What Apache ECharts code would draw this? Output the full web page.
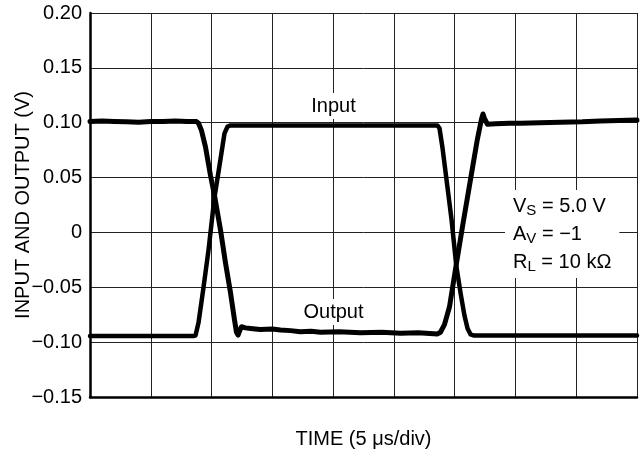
<!DOCTYPE html>
<html>
<head>
<meta charset="utf-8">
<script src="https://cdn.jsdelivr.net/npm/echarts@6/dist/echarts.min.js"></script>
<style>
html,body{margin:0;padding:0;background:#fff;}
#c{width:641px;height:453px;}
</style>
</head>
<body>
<div id="c"></div>
<script>
// Time in microseconds (5 us/div, 9 divisions), values in volts
var inputT = [0, 2, 4, 6, 8, 8.5, 8.68, 8.93, 9.34, 9.75, 10.24, 10.74, 11.06, 11.31, 11.56, 15, 20, 25, 28.4, 28.59, 28.75, 29.0, 29.41, 29.74, 30.13, 30.48, 30.81, 31.06, 31.31, 31.6, 35, 40, 45];
var inputV = [-0.0945, -0.0945, -0.0945, -0.0945, -0.0945, -0.0945, -0.094, -0.082, -0.050, -0.016, 0.032, 0.067, 0.090, 0.0965, 0.0975, 0.0975, 0.0975, 0.0975, 0.0975, 0.0975, 0.095, 0.077, 0.041, 0.012, -0.030, -0.055, -0.076, -0.0875, -0.093, -0.094, -0.094, -0.094, -0.094];

var outputT = [0, 1, 2, 3, 4, 5, 6, 7, 8, 8.76, 8.93, 9.17, 9.50, 9.91, 10.27, 10.74, 11.15, 11.56, 11.89, 12.05, 12.18, 12.30, 12.46, 12.79, 13.2, 14.0, 15.0, 15.67, 16.5, 17.3, 18.2, 18.96, 20.5, 22.25, 24.0, 25.54, 27.0, 28.59, 28.83, 29.16, 29.57, 30.12, 30.64, 31.30, 31.87, 32.20, 32.33, 32.45, 32.70, 33.36, 34.5, 35.42, 37.0, 38.7, 40.5, 42.0, 43.5, 45];
var outputV = [0.101, 0.1015, 0.1012, 0.1008, 0.1005, 0.1012, 0.101, 0.1015, 0.1012, 0.101, 0.0995, 0.093, 0.078, 0.052, 0.032, 0.002, -0.028, -0.055, -0.080, -0.091, -0.0935, -0.090, -0.086, -0.087, -0.0875, -0.0885, -0.088, -0.089, -0.0895, -0.0905, -0.090, -0.091, -0.0905, -0.0915, -0.091, -0.092, -0.0915, -0.0925, -0.091, -0.084, -0.068, -0.030, 0.005, 0.048, 0.085, 0.103, 0.108, 0.104, 0.0985, 0.099, 0.0995, 0.0995, 0.100, 0.1005, 0.1008, 0.1015, 0.102, 0.1025];

var yTickLabels = ['\u22120.15', '\u22120.10', '\u22120.05', '0', '0.05', '0.10', '0.15', '0.20'];
var yAxisTitle = 'INPUT AND OUTPUT (V)';
var xAxisTitle = 'TIME (5 \u03bcs/div)';
var inputLabel = 'Input';
var outputLabel = 'Output';

function zip(t, v) { return t.map(function (x, i) { return [x, v[i]]; }); }

var FONT = 'Liberation Sans, Arial, Helvetica, sans-serif';
var chart = echarts.init(document.getElementById('c'), null, { renderer: 'canvas' });

chart.setOption({
  animation: false,
  backgroundColor: '#fff',
  grid: { left: 90, right: 4, top: 13, bottom: 56, show: false, containLabel: false, outerBoundsMode: 'none' },
  xAxis: {
    type: 'value', min: 0, max: 45, interval: 5,
    name: xAxisTitle, nameLocation: 'middle', nameGap: 32, nameMoveOverlap: false,
    nameTextStyle: { fontFamily: FONT, fontSize: 20, color: '#000' },
    axisLine: { show: true, onZero: false, lineStyle: { color: '#000', width: 2.5 } },
    axisTick: { show: false },
    axisLabel: { show: false },
    splitLine: { show: true, lineStyle: { color: '#222', width: 1 } }
  },
  yAxis: {
    type: 'value', min: -0.15, max: 0.20, interval: 0.05,
    name: yAxisTitle, nameLocation: 'middle', nameGap: 57, nameRotate: 90, nameMoveOverlap: false,
    nameTextStyle: { fontFamily: FONT, fontSize: 20, color: '#000' },
    axisLine: { show: true, onZero: false, lineStyle: { color: '#000', width: 2.5 } },
    axisTick: { show: false },
    axisLabel: {
      margin: 8, fontFamily: FONT, fontSize: 20, color: '#000',
      formatter: function (v) { return yTickLabels[Math.round((v + 0.15) / 0.05)]; }
    },
    splitLine: { show: true, lineStyle: { color: '#222', width: 1 } }
  },
  series: [
    {
      name: 'Input', type: 'line', data: zip(inputT, inputV), symbol: 'none',
      lineStyle: { color: '#000', width: 4.5, cap: 'round', join: 'round' }, z: 3
    },
    {
      name: 'Output', type: 'line', data: zip(outputT, outputV), symbol: 'none',
      lineStyle: { color: '#000', width: 5, cap: 'round', join: 'round' }, z: 3
    }
  ],
  graphic: [
    {
      type: 'text', x: 333.5, y: 106, z: 10,
      style: {
        text: inputLabel, font: '20px ' + FONT, fill: '#000',
        align: 'center', verticalAlign: 'middle',
        backgroundColor: '#fff', padding: [3, 3, 3, 3]
      }
    },
    {
      type: 'text', x: 333.5, y: 312, z: 10,
      style: {
        text: outputLabel, font: '20px ' + FONT, fill: '#000',
        align: 'center', verticalAlign: 'middle',
        backgroundColor: '#fff', padding: [3, 3, 3, 3]
      }
    },
    {
      type: 'text', x: 505, y: 190, z: 10,
      style: {
        text: '{n|V}{s|S}{n| = 5.0 V}\n{n|A}{s|V}{n| = \u22121}\n{n|R}{s|L}{n| = 10 k\u03a9}',
        fill: '#000', backgroundColor: '#fff', padding: [2, 8, 2, 8],
        align: 'left', verticalAlign: 'top',
        rich: {
          n: { fontFamily: FONT, fontSize: 20, lineHeight: 28, fill: '#000' },
          s: { fontFamily: FONT, fontSize: 15, lineHeight: 28, padding: [9, 0, 0, 0], fill: '#000' }
        }
      }
    }
  ]
});
</script>
</body>
</html>
